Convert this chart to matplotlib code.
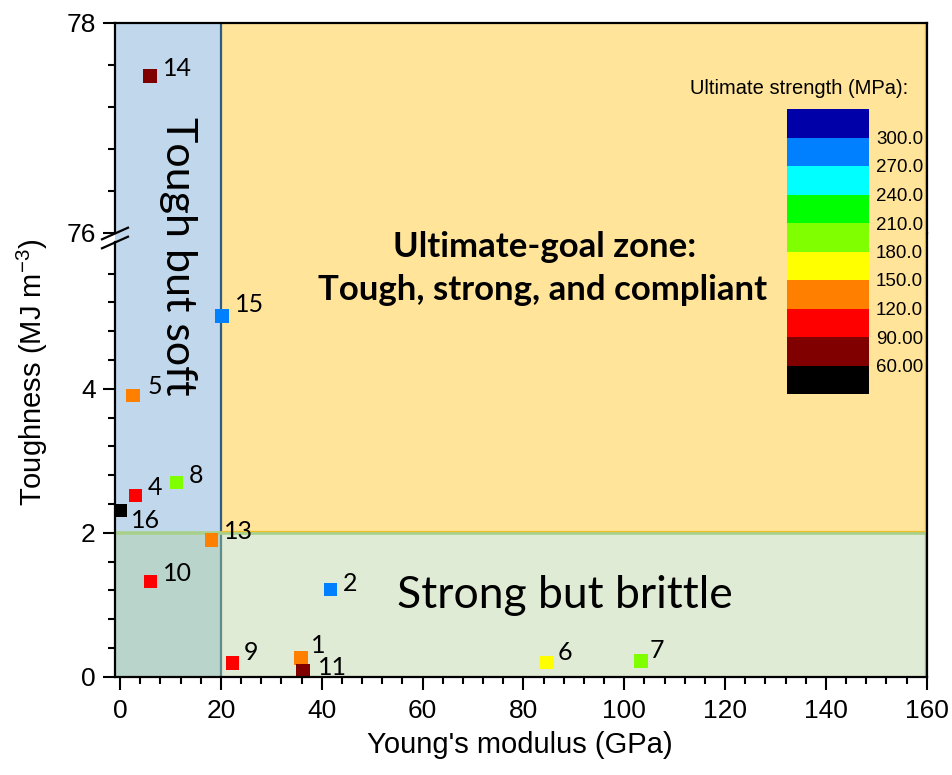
import numpy as np
import matplotlib
matplotlib.use("Agg")
import matplotlib.pyplot as plt
from matplotlib.colors import ListedColormap, BoundaryNorm
from matplotlib.patches import Rectangle
from matplotlib.cm import ScalarMappable
from matplotlib.ticker import FixedLocator
from matplotlib.lines import Line2D

plt.rcParams["font.family"] = ["Liberation Sans", "DejaVu Sans"]
plt.rcParams["mathtext.default"] = "regular"

# ---- data -------------------------------------------------------------
sample_ids = [1, 2, 4, 5, 6, 7, 8, 9, 10, 11, 13, 14, 15, 16]
youngs_modulus = [35.9, 41.8, 3.0, 2.6, 84.7, 103.3, 11.2, 22.3, 6.0, 36.3, 18.1, 6.0, 20.2, 0.1]
toughness = [0.26, 1.21, 2.52, 3.91, 0.20, 0.22, 2.70, 0.19, 1.32, 0.09, 1.90, 77.5, 5.01, 2.31]
ultimate_strength = [130, 285, 100, 125, 160, 190, 185, 95, 105, 75, 135, 80, 280, 45]

strength_bounds = [30, 60, 90, 120, 150, 180, 210, 240, 270, 300, 330]
strength_colors = ["#000000", "#800000", "#FF0000", "#FF8000", "#FFFF00",
                   "#80FF00", "#00FF00", "#00FFFF", "#0080FF", "#0000A8"]
strength_ticks = [60, 90, 120, 150, 180, 210, 240, 270, 300]
strength_tick_labels = ["60.00", "90.00", "120.0", "150.0", "180.0",
                        "210.0", "240.0", "270.0", "300.0"]

x_major = [0, 20, 40, 60, 80, 100, 120, 140, 160]
y_major_low = [0, 2, 4]
y_major_high = [76, 78]

# zone boundaries
modulus_split = 20
toughness_split = 2

# ---- layout (pixels of a 952 x 775 canvas) ---------------------------
W_PX, H_PX = 952, 775
fig = plt.figure(figsize=(W_PX / 100, H_PX / 100), dpi=100)
fig.patch.set_facecolor("white")


def fx(px):
    return px / W_PX


def fy(py):
    return 1 - py / H_PX


left_px, right_px = 115, 926.7
bottom_px, break_px, top_px = 676.7, 233, 23
low_per_unit = 72.0  # pixels per MJ m^-3 in the lower segment

ax_lo = fig.add_axes([fx(left_px), fy(bottom_px), (right_px - left_px) / W_PX,
                      (bottom_px - break_px) / H_PX])
ax_hi = fig.add_axes([fx(left_px), fy(break_px), (right_px - left_px) / W_PX,
                      (break_px - top_px) / H_PX])

x_lim = (-1, 160)
low_top = (bottom_px - break_px) / low_per_unit
ax_lo.set_xlim(*x_lim)
ax_hi.set_xlim(*x_lim)
ax_lo.set_ylim(0, low_top)
ax_hi.set_ylim(76, 78)

c_blue = "#C1D8EC"
c_yellow = "#FFE49A"
c_lowleft = "#B9D5CB"
c_lowright = "#DFEBD4"
c_gold = "#F2BF2A"
c_green_line = "#A8D08C"

for ax, (y0, y1) in ((ax_lo, (0, low_top)), (ax_hi, (76, 78))):
    top_lo = max(y0, toughness_split)
    ax.add_patch(Rectangle((x_lim[0], top_lo), modulus_split - x_lim[0], y1 - top_lo + 1,
                           facecolor=c_blue, edgecolor="none", zorder=0))
    ax.add_patch(Rectangle((modulus_split, top_lo), x_lim[1] - modulus_split, y1 - top_lo + 1,
                           facecolor=c_yellow, edgecolor="none", zorder=0))
    ax.plot([x_lim[1] - 0.25] * 2, [top_lo, y1 + 1], color=c_gold, lw=1.0, zorder=1)
    ax.plot([modulus_split] * 2, [top_lo, y1 + 1], color="#2C5C86", lw=1.6, zorder=1)

ax_lo.add_patch(Rectangle((x_lim[0], 0), modulus_split - x_lim[0], toughness_split,
                          facecolor=c_lowleft, edgecolor="none", zorder=0))
ax_lo.add_patch(Rectangle((modulus_split, 0), x_lim[1] - modulus_split, toughness_split,
                          facecolor=c_lowright, edgecolor="none", zorder=0))
ax_lo.plot([modulus_split] * 2, [0, toughness_split], color="#5E8B8B", lw=1.6, zorder=1)
ax_lo.plot(x_lim, [toughness_split] * 2, color=c_green_line, lw=2.6, zorder=1)
ax_lo.plot([modulus_split, x_lim[1]], [toughness_split + 0.02] * 2, color=c_gold, lw=0.9, zorder=1)
ax_lo.plot([x_lim[1] - 0.25] * 2, [0, toughness_split], color="#9CC47F", lw=1.0, zorder=1)

# ---- markers ----------------------------------------------------------
cmap = ListedColormap(strength_colors)
norm = BoundaryNorm(strength_bounds, cmap.N)

label_offsets_px = {1: (10, 12), 2: (12, 6), 4: (13, 8), 5: (14, 9), 6: (11, 10),
                    7: (9, 10), 8: (12, 7), 9: (11, 11), 10: (13, 8), 11: (15, 3),
                    13: (13, 8), 14: (13, 7), 15: (13, 11), 16: (10, -10)}

xs = np.array(youngs_modulus)
ys = np.array(toughness)
ss = np.array(ultimate_strength)
for ax, (y0, y1) in ((ax_lo, (0, low_top)), (ax_hi, (76, 78))):
    m = (ys >= y0) & (ys <= y1)
    ax.scatter(xs[m], ys[m], c=ss[m], cmap=cmap, norm=norm, marker="s", s=92,
               linewidths=0, zorder=5, clip_on=False)
    for sid, x, y in zip(np.array(sample_ids)[m], xs[m], ys[m]):
        dx, dy = label_offsets_px[int(sid)]
        ax.annotate(str(sid), (x, y), xytext=(dx * 0.72, dy * 0.72),
                    textcoords="offset points", ha="left", va="center",
                    fontsize=18, family=["Lato", "DejaVu Sans"], zorder=6,
                    annotation_clip=False)

# ---- axes styling ----------------------------------------------------
for ax in (ax_lo, ax_hi):
    for side in ("left", "right", "top", "bottom"):
        ax.spines[side].set_linewidth(1.6)
        ax.spines[side].set_color("black")
        ax.spines[side].set_zorder(7)
    ax.tick_params(axis="both", which="major", direction="out", length=9, width=1.5,
                   labelsize=19, pad=5, right=False, top=False)
    ax.tick_params(axis="both", which="minor", direction="out", length=5, width=1.5,
                   right=False, top=False)

ax_lo.spines["top"].set_visible(False)
ax_hi.spines["bottom"].set_visible(False)
ax_lo.spines["left"].set_bounds(0, low_top - 0.13)

ax_lo.set_xticks(x_major)
ax_lo.xaxis.set_minor_locator(FixedLocator([v for v in range(4, 160, 4) if v % 20]))
ax_lo.tick_params(axis="x", which="major", pad=7)
ax_hi.set_xticks([])
ax_hi.tick_params(axis="x", which="both", bottom=False, labelbottom=False)

ax_lo.set_yticks(y_major_low)
ax_lo.yaxis.set_minor_locator(FixedLocator([0.4, 0.8, 1.2, 1.6, 2.4, 2.8, 3.2, 3.6,
                                            4.4, 4.8, 5.2, 5.6]))
ax_hi.set_yticks(y_major_high)
ax_hi.yaxis.set_minor_locator(FixedLocator([76.4, 76.8, 77.2, 77.6]))

# axis-break marks on the left spine
for y_a, y_b in ((239.3, 227.7), (248.3, 236.7)):
    fig.add_artist(Line2D([fx(102), fx(128)], [fy(y_a), fy(y_b)], color="black",
                          lw=1.6, zorder=10))

fig.text(fx(519.5), fy(745), "Young's modulus (GPa)", ha="center", va="center", fontsize=21)
fig.text(fx(32), fy(372), "Toughness (MJ m$^{-3}$)", ha="center", va="center",
         fontsize=21, rotation=90)

# ---- zone labels ------------------------------------------------------
zone_font = ["Lato", "DejaVu Sans"]
fig.text(fx(178), fy(256), "Tough but soft", rotation=270, ha="center", va="center",
         fontsize=31, family=zone_font)
fig.text(fx(545), fy(247), "Ultimate-goal zone:", ha="center", va="center",
         fontsize=25, fontweight="bold", family=zone_font)
fig.text(fx(543), fy(290), "Tough, strong, and compliant", ha="center", va="center",
         fontsize=25, fontweight="bold", family=zone_font)
fig.text(fx(565), fy(595), "Strong but brittle", ha="center", va="center",
         fontsize=32, family=zone_font)

# ---- strength colour key ---------------------------------------------
cax = fig.add_axes([fx(787), fy(394), 82 / W_PX, (394 - 109) / H_PX])
cb = fig.colorbar(ScalarMappable(norm=norm, cmap=cmap), cax=cax, ticks=strength_ticks)
cb.outline.set_visible(False)
cax.minorticks_off()
cax.set_yticklabels(strength_tick_labels)
cax.tick_params(which="both", length=0, pad=5, labelsize=13.5)
fig.text(fx(799), fy(88), "Ultimate strength (MPa):", ha="center", va="center", fontsize=14.5)

fig.savefig("out.png", dpi=100)
